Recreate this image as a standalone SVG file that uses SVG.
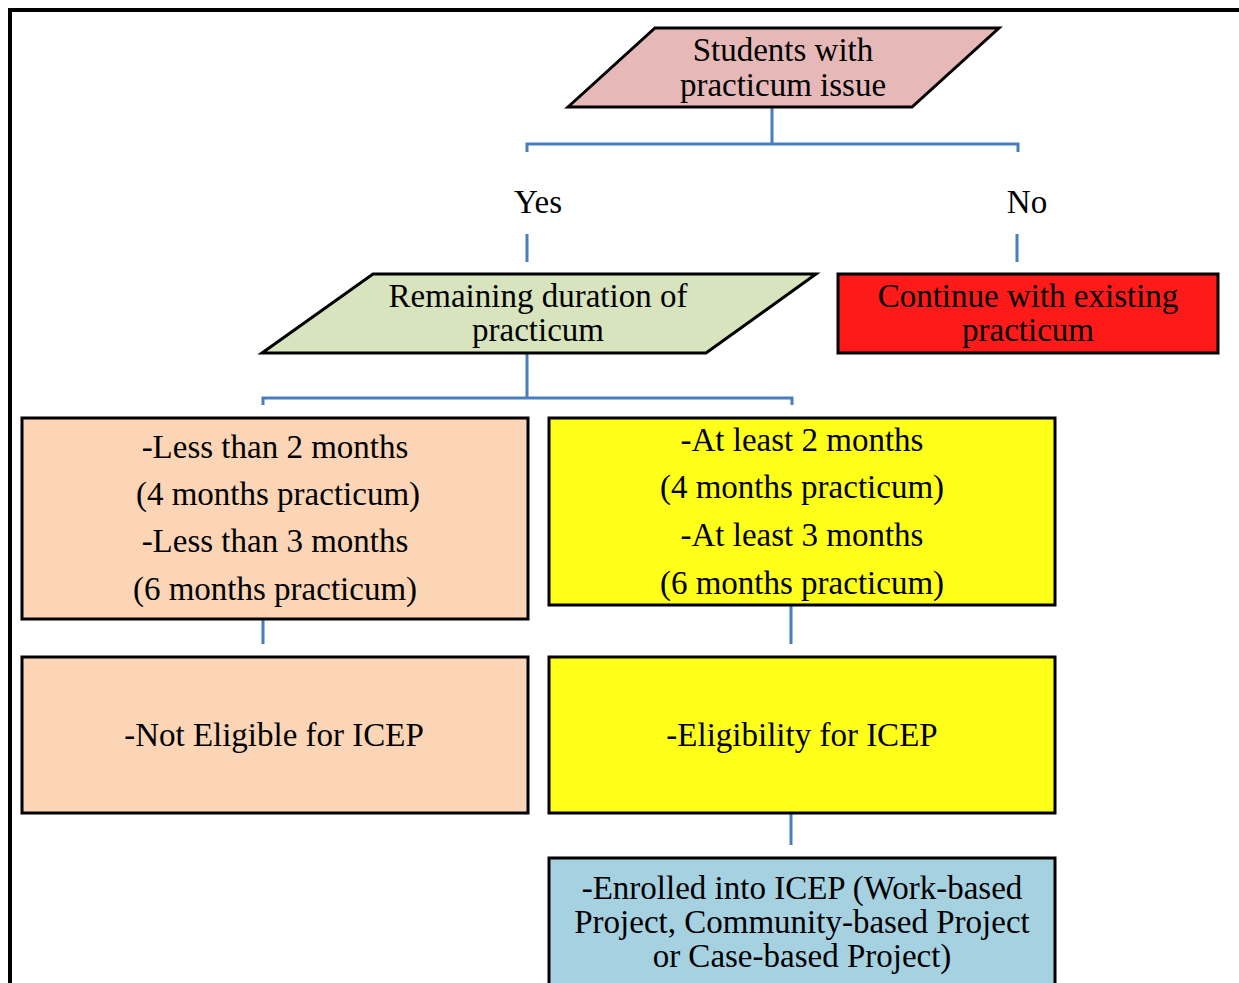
<svg xmlns="http://www.w3.org/2000/svg" width="1239" height="983" viewBox="0 0 1239 983">
<style>
.n{stroke:#000;stroke-width:3;stroke-linejoin:miter}
.t{font-family:"Liberation Serif","Times New Roman",serif;font-size:33px;fill:#000;text-anchor:middle}
.c{fill:none;stroke:#4A7EBB;stroke-width:3}
</style>
<rect width="1239" height="983" fill="#fff"/>
<path d="M10,985 V10 H1241" fill="none" stroke="#000" stroke-width="4"/>
<g id="connectors">
<path class="c" d="M772,108 V144 M527,152 V144 H1018 V152"/>
<path class="c" d="M527,234 V262 M1017,234 V262"/>
<path class="c" d="M527,354 V398 M263,405 V398 H792 V405"/>
<path class="c" d="M263,620 V644 M791,606 V644"/>
<path class="c" d="M791,814 V845"/>
</g>
<g id="students">
<polygon class="n" points="568,107 655,28 999,28 912,107" fill="#E6B9B8"/>
<text class="t" x="783" y="61">Students with</text>
<text class="t" x="783" y="96">practicum issue</text>
</g>
<g id="yes"><text class="t" x="538" y="213">Yes</text></g>
<g id="no"><text class="t" x="1027" y="213">No</text></g>
<g id="remaining">
<polygon class="n" points="262,353 373,274 816,274 706,353" fill="#D7E4BD"/>
<text class="t" x="538" y="307">Remaining duration of</text>
<text class="t" x="538" y="341">practicum</text>
</g>
<g id="continue">
<rect class="n" x="838" y="274" width="380" height="79" fill="#FF1A1A"/>
<text class="t" x="1028" y="307">Continue with existing</text>
<text class="t" x="1028" y="341">practicum</text>
</g>
<g id="less">
<rect class="n" x="22" y="418" width="506" height="201" fill="#FBD5B5"/>
<text class="t" x="275" y="458">-Less than 2 months</text>
<text class="t" x="278" y="505">(4 months practicum)</text>
<text class="t" x="275" y="552">-Less than 3 months</text>
<text class="t" x="275" y="600">(6 months practicum)</text>
</g>
<g id="atleast">
<rect class="n" x="549" y="418" width="506" height="187" fill="#FFFF1A"/>
<text class="t" x="802" y="451">-At least 2 months</text>
<text class="t" x="802" y="498">(4 months practicum)</text>
<text class="t" x="802" y="546">-At least 3 months</text>
<text class="t" x="802" y="594">(6 months practicum)</text>
</g>
<g id="noteligible">
<rect class="n" x="22" y="657" width="506" height="156" fill="#FBD5B5"/>
<text class="t" x="274" y="746">-Not Eligible for ICEP</text>
</g>
<g id="eligible">
<rect class="n" x="549" y="657" width="506" height="156" fill="#FFFF1A"/>
<text class="t" x="802" y="746">-Eligibility for ICEP</text>
</g>
<g id="enrolled">
<rect class="n" x="549" y="858" width="506" height="140" fill="#A5D1E0"/>
<text class="t" x="802" y="899">-Enrolled into ICEP (Work-based</text>
<text class="t" x="802" y="933">Project, Community-based Project</text>
<text class="t" x="802" y="967">or Case-based Project)</text>
</g>
</svg>
